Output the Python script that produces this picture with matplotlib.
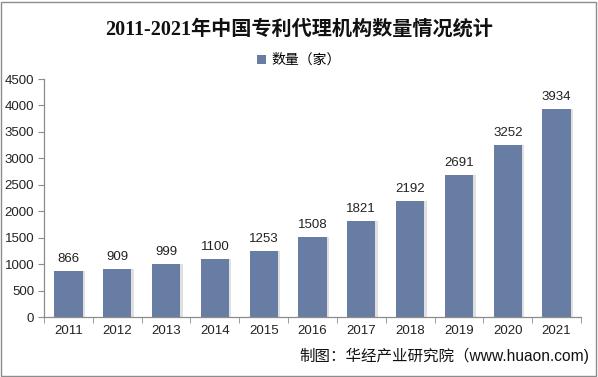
import matplotlib
matplotlib.use("Agg")
import matplotlib.pyplot as plt
from matplotlib.patches import Rectangle

plt.rcParams['font.family'] = ['Liberation Sans', 'Noto Sans CJK SC', 'DejaVu Sans']

years = ['2011', '2012', '2013', '2014', '2015', '2016', '2017', '2018', '2019', '2020', '2021']
counts = [866, 909, 999, 1100, 1253, 1508, 1821, 2192, 2691, 3252, 3934]
yticks = [0, 500, 1000, 1500, 2000, 2500, 3000, 3500, 4000, 4500]
title = '2011-2021年中国专利代理机构数量情况统计'
series_name = '数量（家）'
source = '制图：华经产业研究院（www.huaon.com)'

bar_color = '#687da3'
W, H = 598, 377
fig = plt.figure(figsize=(W / 100, H / 100), dpi=100)
fig.patch.set_facecolor('white')
fig.add_artist(Rectangle((0.002, 0.003), 0.995, 0.993, transform=fig.transFigure,
                         fill=False, edgecolor='#8c8c8c', linewidth=1.0))

ax = fig.add_axes([44 / W, (H - 317) / H, (581 - 44) / W, (317 - 79) / H])
x = list(range(len(years)))
# soft shadow
ax.bar([i + 0.05 for i in x], counts, width=0.58, color='#e0e0e0', zorder=1)
bars = ax.bar(x, counts, width=0.58, color=bar_color, zorder=2, label=series_name)
for i, v in zip(x, counts):
    ax.text(i, v + 110, str(v), ha='center', va='bottom', fontsize=9.5, color='#222222')

ax.set_xlim(-0.5, len(years) - 0.5)
ax.set_ylim(0, 4500)
ax.set_yticks(yticks)
ax.set_yticklabels([str(t) for t in yticks], fontsize=9.5, color='#222222')
ax.set_xticks(x)
ax.set_xticklabels(years, fontsize=9.5, color='#222222')
ax.set_xticks([i - 0.5 for i in range(len(years) + 1)], minor=True)
ax.tick_params(axis='x', which='major', length=0, pad=6)
ax.tick_params(axis='x', which='minor', length=4, color='#8c8c8c', direction='out')
ax.tick_params(axis='y', length=4, color='#8c8c8c', direction='out', pad=3)
for s in ['top', 'right']:
    ax.spines[s].set_visible(False)
for s in ['left', 'bottom']:
    ax.spines[s].set_color('#8c8c8c')
    ax.spines[s].set_linewidth(0.9)

fig.text(0.5, (H - 30) / H, title, ha='center', va='center', fontsize=14.5,
         fontweight='bold', family=['Liberation Serif', 'Noto Sans CJK SC', 'DejaVu Sans'], color='#111111')
leg = fig.legend(handles=[bars], labels=[series_name], loc='center', bbox_to_anchor=(0.5, (H - 60) / H),
                 frameon=False, handlelength=0.6, handleheight=0.6, handletextpad=0.4,
                 prop={'family': ['Noto Sans CJK SC', 'DejaVu Sans'], 'size': 10})
fig.text(589 / W, (H - 356) / H, source, ha='right', va='center', fontsize=11.2,
         family=['Liberation Sans', 'Noto Sans CJK SC', 'DejaVu Sans'], color='#111111')

fig.savefig('out.png', dpi=100, facecolor='white')
